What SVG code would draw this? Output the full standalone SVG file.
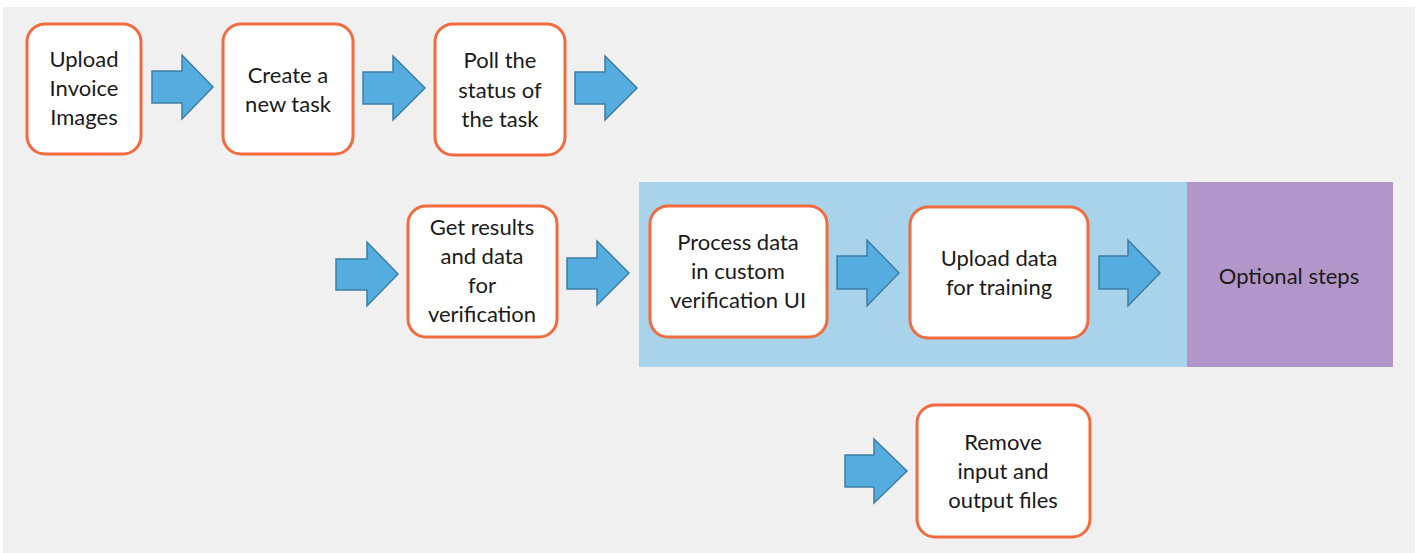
<svg xmlns="http://www.w3.org/2000/svg" width="1417" height="553" viewBox="0 0 1417 553">
<style>
.node rect{fill:#ffffff;stroke:#F26B3E;stroke-width:3}
text{font-family:Lato,"Open Sans","Liberation Sans",sans-serif;font-size:22px;fill:#1a1a1a;text-anchor:middle}
.arrow{fill:#55ADDF;stroke:#3D7EA6;stroke-width:1.5;stroke-linejoin:miter}
</style>
<rect x="0" y="0" width="1417" height="553" fill="#ffffff"/>
<rect x="3" y="7" width="1412" height="546" fill="#F0F0F0"/>
<g id="optional-region">
<rect x="639" y="182" width="548" height="185" fill="#A9D3EA"/>
<rect x="1187" y="182" width="206" height="185" fill="#B396C9"/>
<text x="1289" y="284">Optional steps</text>
</g>
<g id="connectors">
<path class="arrow" d="M152,71 H182 V55 L213,87 L182,119 V103 H152 Z"/>
<path class="arrow" d="M363,72 H393 V56 L425,88 L393,120 V104 H363 Z"/>
<path class="arrow" d="M575,72 H605 V56 L637,88 L605,120 V104 H575 Z"/>
<path class="arrow" d="M336,259 H367 V242 L398,274 L367,306 V290 H336 Z"/>
<path class="arrow" d="M567,258 H597 V241 L629,273 L597,305 V289 H567 Z"/>
<path class="arrow" d="M837,256 H867 V240 L899,273 L867,306 V289 H837 Z"/>
<path class="arrow" d="M1099,256 H1128 V240 L1160,273 L1128,306 V289 H1099 Z"/>
<path class="arrow" d="M845,455 H874 V439 L907,471 L874,503 V487 H845 Z"/>
</g>
<g id="node-upload-invoice" class="node">
<rect x="27" y="24" width="114" height="130" rx="18"/>
<text x="84" y="67">Upload</text>
<text x="84" y="96">Invoice</text>
<text x="84" y="125">Images</text>
</g>
<g id="node-create-task" class="node">
<rect x="223" y="24" width="130" height="130" rx="18"/>
<text x="288" y="83">Create a</text>
<text x="288" y="112">new task</text>
</g>
<g id="node-poll-status" class="node">
<rect x="435" y="24" width="130" height="131" rx="18"/>
<text x="500" y="68">Poll the</text>
<text x="500" y="98">status of</text>
<text x="500" y="127">the task</text>
</g>
<g id="node-get-results" class="node">
<rect x="408" y="206" width="149" height="131" rx="18"/>
<text x="482" y="235">Get results</text>
<text x="482" y="264">and data</text>
<text x="482" y="293">for</text>
<text x="482" y="322">verification</text>
</g>
<g id="node-process-data" class="node">
<rect x="650" y="206" width="177" height="131" rx="18"/>
<text x="738" y="250">Process data</text>
<text x="738" y="279">in custom</text>
<text x="738" y="308">verification UI</text>
</g>
<g id="node-upload-training" class="node">
<rect x="910" y="207" width="178" height="131" rx="18"/>
<text x="999" y="266">Upload data</text>
<text x="999" y="295">for training</text>
</g>
<g id="node-remove-files" class="node">
<rect x="917" y="405" width="173" height="132" rx="18"/>
<text x="1003" y="450">Remove</text>
<text x="1003" y="479">input and</text>
<text x="1003" y="508">output files</text>
</g>
</svg>
